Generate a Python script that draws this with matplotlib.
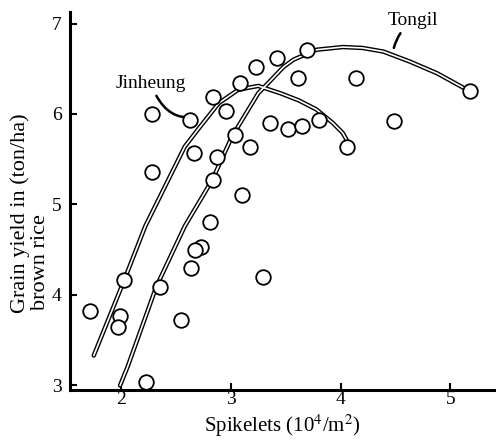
import matplotlib
matplotlib.use("Agg")
import matplotlib.pyplot as plt

# observed plots (spikelets 10^4/m2, yield ton/ha)
obs_x = [2.28, 2.63, 2.66, 2.28, 2.84, 2.96, 3.08, 3.23, 3.04, 3.17, 3.36,
         2.87, 2.84, 3.10, 2.81, 2.73, 2.67, 2.64, 3.29, 1.72, 2.03, 1.99,
         1.97, 2.35, 2.55, 2.23, 3.42, 3.69, 3.61, 4.14, 5.18, 3.52, 3.65,
         3.80, 4.06, 4.49]
obs_y = [6.00, 5.93, 5.57, 5.36, 6.19, 6.03, 6.34, 6.52, 5.77, 5.64, 5.90,
         5.53, 5.27, 5.10, 4.81, 4.53, 4.50, 4.30, 4.20, 3.82, 4.17, 3.77,
         3.65, 4.09, 3.72, 3.04, 6.62, 6.71, 6.40, 6.40, 6.25, 5.83, 5.87,
         5.93, 5.64, 5.92]

# hand-fitted response curves
jin_x = [1.75, 2.03, 2.22, 2.40, 2.58, 2.72, 2.89, 3.07, 3.25, 3.45, 3.62,
         3.78, 3.93, 4.02, 4.07]
jin_y = [3.33, 4.17, 4.76, 5.20, 5.64, 5.86, 6.12, 6.27, 6.31, 6.23, 6.15,
         6.05, 5.90, 5.79, 5.68]
ton_x = [1.99, 2.06, 2.32, 2.58, 2.83, 3.01, 3.25, 3.37, 3.48, 3.57, 3.78,
         4.02, 4.20, 4.39, 4.63, 4.88, 5.12, 5.18]
ton_y = [3.00, 3.21, 4.09, 4.76, 5.27, 5.75, 6.23, 6.38, 6.52, 6.60, 6.71,
         6.74, 6.73, 6.69, 6.58, 6.45, 6.29, 6.25]

xticks = [2, 3, 4, 5]
yticks = [3, 4, 5, 6, 7]

plt.rcParams["font.family"] = ["Liberation Serif", "DejaVu Serif"]
plt.rcParams["mathtext.fontset"] = "stix"

fig = plt.figure(figsize=(4.96, 4.42), dpi=100)
ax = fig.add_axes([0.141, 0.118, 0.859, 0.855])

# hollow "double" strokes like the inked original
for xs, ys in [(jin_x, jin_y), (ton_x, ton_y)]:
    ax.plot(xs, ys, color="black", lw=3.2, solid_capstyle="round",
            solid_joinstyle="round", zorder=2)
    ax.plot(xs, ys, color="white", lw=1.2, solid_capstyle="round",
            solid_joinstyle="round", zorder=3)

ax.plot(obs_x, obs_y, "o", ms=10.5, mfc="white", mec="black", mew=1.3,
        zorder=4, clip_on=False)

ax.set_xlim(1.533, 5.417)
ax.set_ylim(2.951, 7.128)
ax.set_xticks(xticks)
ax.set_yticks(yticks)
ax.tick_params(direction="in", length=5, width=1.5, labelsize=14)
ax.tick_params(axis="y", pad=6)
ax.tick_params(axis="x", pad=1)
for s in ["top", "right"]:
    ax.spines[s].set_visible(False)
for s in ["left", "bottom"]:
    ax.spines[s].set_linewidth(2.2)

fig.text(0.57, 0.036, "Spikelets (10$^4$/m$^2$)", ha="center", va="center",
         fontsize=15)
fig.text(0.04, 0.292, "Grain yield in (ton/ha)", rotation=90,
         rotation_mode="anchor", ha="left", va="center", fontsize=16)
fig.text(0.082, 0.298, "brown rice", rotation=90,
         rotation_mode="anchor", ha="left", va="center", fontsize=16)

ax.annotate("Jinheung", xy=(2.67, 5.97), xytext=(2.27, 6.34),
            ha="center", va="center", fontsize=14,
            arrowprops=dict(arrowstyle="-", lw=1.8, color="black",
                            shrinkA=1, shrinkB=2,
                            connectionstyle="angle3,angleA=-70,angleB=10"))
ax.annotate("Tongil", xy=(4.48, 6.70), xytext=(4.66, 7.03),
            ha="center", va="center", fontsize=14,
            arrowprops=dict(arrowstyle="-", lw=1.8, color="black",
                            shrinkA=1, shrinkB=2,
                            connectionstyle="arc3,rad=0.2"))

fig.savefig("out.png", dpi=100)
plt.close(fig)
